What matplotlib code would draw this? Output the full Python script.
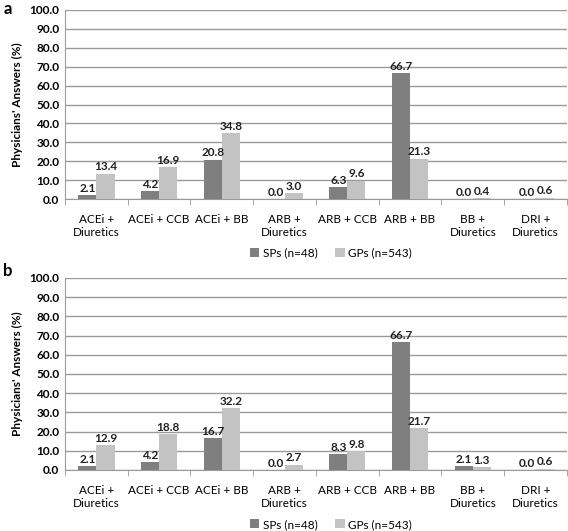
import numpy as np
import matplotlib.pyplot as plt

categories = ['ACEi +\nDiuretics', 'ACEi + CCB', 'ACEi + BB', 'ARB +\nDiuretics',
              'ARB + CCB', 'ARB + BB', 'BB +\nDiuretics', 'DRI +\nDiuretics']
sp_a = [2.1, 4.2, 20.8, 0.0, 6.3, 66.7, 0.0, 0.0]
gp_a = [13.4, 16.9, 34.8, 3.0, 9.6, 21.3, 0.4, 0.6]
sp_b = [2.1, 4.2, 16.7, 0.0, 8.3, 66.7, 2.1, 0.0]
gp_b = [12.9, 18.8, 32.2, 2.7, 9.8, 21.7, 1.3, 0.6]
series_names = ['SPs (n=48)', 'GPs (n=543)']

plt.rcParams['font.family'] = ['Lato', 'DejaVu Sans']
dark = '#7f7f7f'
light = '#c3c3c3'
grid_c = '#9a9a9a'

fig = plt.figure(figsize=(5.68, 5.31), dpi=100)
panels = [('a', sp_a, gp_a, [0.1144, 0.6252, 0.8836, 0.356], 0.999),
          ('b', sp_b, gp_b, [0.1144, 0.1149, 0.8836, 0.3616], 0.505)]

x = np.arange(len(categories))
w = 0.29
for letter, sp, gp, rect, ly in panels:
    ax = fig.add_axes(rect)
    b1 = ax.bar(x - w / 2, sp, w, color=dark, label=series_names[0], zorder=3)
    b2 = ax.bar(x + w / 2, gp, w, color=light, label=series_names[1], zorder=3)
    for bars in (b1, b2):
        ax.bar_label(bars, fmt='%.1f', padding=1, fontsize=8.5, fontweight='bold', color='#222222')
    ax.set_ylim(0, 100)
    ax.set_xlim(-0.5, len(categories) - 0.5)
    ax.set_yticks(np.arange(0, 101, 10))
    ax.set_yticklabels(['%.1f' % v for v in np.arange(0, 101, 10)], fontsize=8.5, fontweight='bold')
    ax.set_xticks(x)
    ax.set_xticklabels(categories, fontsize=8.5)
    ax.set_xticks(np.arange(-0.5, len(categories)), minor=True)
    ax.tick_params(axis='x', which='major', length=0, pad=11)
    ax.tick_params(axis='x', which='minor', length=4, color=grid_c)
    ax.tick_params(axis='y', length=0, pad=4)
    ax.yaxis.grid(True, color=grid_c, linewidth=1, zorder=0)
    ax.set_axisbelow(True)
    for s in ('top', 'right'):
        ax.spines[s].set_visible(False)
    ax.spines['left'].set_color(grid_c)
    ax.spines['bottom'].set_color(grid_c)
    ax.set_ylabel("Physicians' Answers (%)", fontsize=8.5, fontweight='bold', labelpad=5)
    ax.legend(loc='upper center', bbox_to_anchor=(0.53, -0.2), ncol=2, frameon=False,
              fontsize=8.5, handlelength=0.8, handleheight=0.8, handletextpad=0.3,
              columnspacing=1.5)
    fig.text(0.006, ly, letter, fontsize=12, fontweight='bold', va='top', ha='left')

fig.savefig('out.png', dpi=100)
